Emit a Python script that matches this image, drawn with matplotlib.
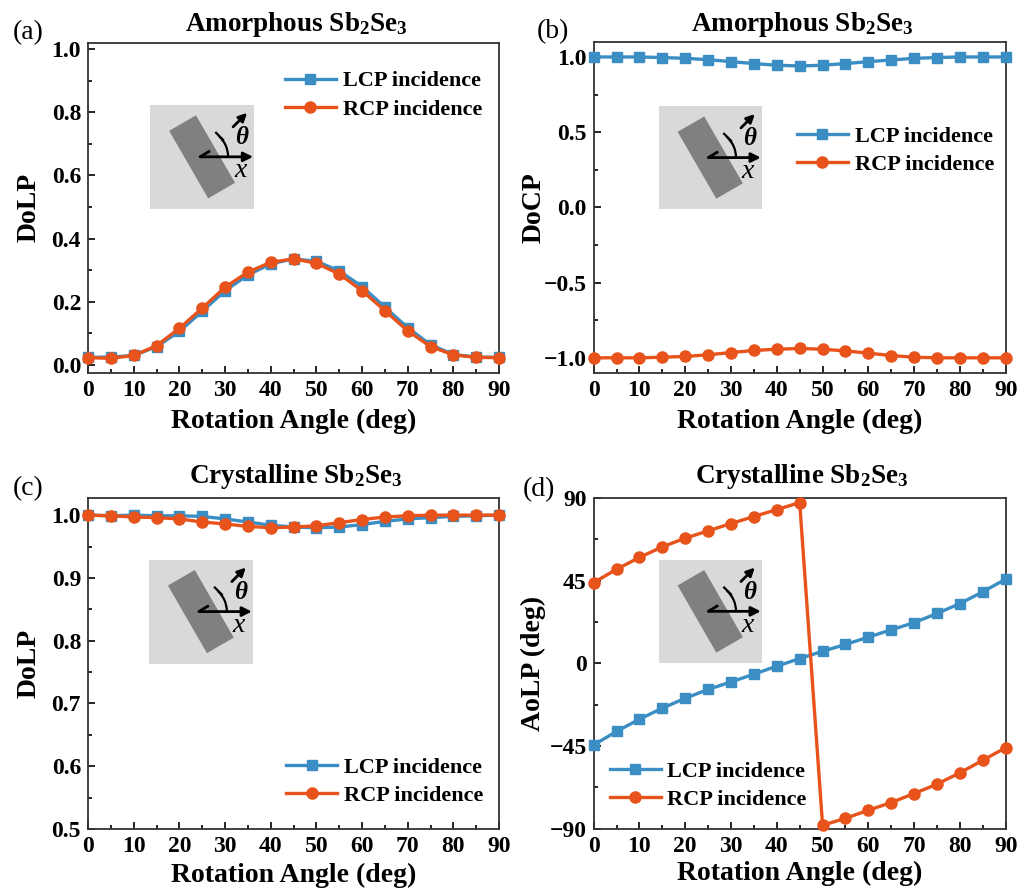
import numpy as np
import matplotlib
matplotlib.use("Agg")
import matplotlib.pyplot as plt
from matplotlib.patches import Rectangle, Arc
from matplotlib.ticker import MultipleLocator

plt.rcParams['font.family'] = ['Liberation Serif', 'DejaVu Serif']
plt.rcParams['font.weight'] = 'bold'
plt.rcParams['mathtext.fontset'] = 'custom'
plt.rcParams['mathtext.rm'] = 'Liberation Serif:bold'
plt.rcParams['mathtext.it'] = 'Liberation Serif:italic'
plt.rcParams['mathtext.bf'] = 'Liberation Serif:bold'

# ---- data ----
angle = [0, 5, 10, 15, 20, 25, 30, 35, 40, 45, 50, 55, 60, 65, 70, 75, 80, 85, 90]

# (a) DoLP, amorphous
dolp_am_lcp = [0.024, 0.025, 0.030, 0.058, 0.106, 0.170, 0.235, 0.285, 0.320, 0.336,
               0.328, 0.298, 0.248, 0.183, 0.118, 0.064, 0.033, 0.025, 0.024]
dolp_am_rcp = [0.023, 0.021, 0.030, 0.061, 0.116, 0.180, 0.246, 0.294, 0.325, 0.336,
               0.322, 0.288, 0.235, 0.172, 0.108, 0.058, 0.032, 0.024, 0.023]

# (b) DoCP, amorphous
docp_am_lcp = [1.000, 1.000, 1.000, 0.996, 0.991, 0.982, 0.969, 0.956, 0.945, 0.940,
               0.945, 0.956, 0.969, 0.980, 0.991, 0.996, 1.000, 1.000, 1.000]
docp_am_rcp = [-1.000, -1.000, -1.000, -0.996, -0.991, -0.980, -0.965, -0.951, -0.943, -0.938,
               -0.943, -0.954, -0.969, -0.985, -0.996, -1.000, -1.000, -1.000, -1.000]

# (c) DoLP, crystalline
dolp_cr_lcp = [1.000, 0.999, 1.000, 0.999, 0.999, 0.998, 0.994, 0.989, 0.984, 0.981,
               0.980, 0.981, 0.985, 0.990, 0.994, 0.996, 0.998, 0.999, 1.000]
dolp_cr_rcp = [1.000, 0.999, 0.997, 0.996, 0.994, 0.989, 0.986, 0.982, 0.980, 0.981,
               0.983, 0.988, 0.993, 0.997, 0.999, 1.000, 1.000, 1.000, 1.000]

# (d) AoLP, crystalline
aolp_cr_lcp = [-44.4, -37.1, -30.4, -24.4, -19.0, -14.2, -10.1, -5.9, -1.5, 2.6,
               6.6, 10.3, 14.3, 18.3, 22.2, 27.2, 32.6, 39.0, 45.9]
aolp_cr_rcp = [44.0, 51.3, 57.7, 63.5, 68.2, 72.2, 76.2, 80.0, 83.8, 87.6,
               -88.2, -84.4, -80.0, -75.8, -70.9, -65.8, -59.6, -52.8, -45.9]

BLUE = '#3b8ec4'
ORANGE = '#e8521b'

fig = plt.figure(figsize=(10.2, 8.92), dpi=100)

def add_inset(ax, pos):
    ins = ax.inset_axes(pos)
    ins.set_xlim(0, 104)
    ins.set_ylim(0, 104)
    ins.set_facecolor('#d9d9d9')
    for s in ins.spines.values():
        s.set_visible(False)
    ins.set_xticks([])
    ins.set_yticks([])
    ins.add_patch(Rectangle((52 - 15.5, 52 - 39), 31, 78, angle=30,
                            rotation_point='center', color='#808080', lw=0))
    # x axis arrow
    ins.annotate('', xy=(103, 52), xytext=(50, 52),
                 arrowprops=dict(arrowstyle='-|>', lw=2, color='black',
                                 mutation_scale=14, shrinkA=0, shrinkB=0))
    # rotated axis arrow (outer part)
    ins.annotate('', xy=(97, 96), xytext=(83, 82),
                 arrowprops=dict(arrowstyle='-|>', lw=2, color='black',
                                 mutation_scale=12, shrinkA=0, shrinkB=0))
    ins.plot([50, 60], [52, 58], color='black', lw=2, solid_capstyle='butt')
    ins.add_patch(Arc((50, 52), 56, 56, theta1=0, theta2=48, lw=1.6, color='black'))
    ins.plot([66, 73], [76, 69], color='black', lw=1.6)
    ins.text(92, 71, r'$\theta$', fontsize=18, ha='center', va='center')
    ins.text(90, 38, 'x', fontsize=20, ha='center', va='center',
             fontstyle='italic', fontweight='normal')
    return ins

def style_axes(ax, ylabel, title, tag, tag_xy, ylab_x, xlab_y, title_y):
    ax.set_xlim(0, 90)
    ax.xaxis.set_major_locator(MultipleLocator(10))
    ax.xaxis.set_minor_locator(MultipleLocator(5))
    ax.tick_params(which='both', direction='in', top=False, right=False,
                   labelsize=17, width=1.2, pad=5)
    ax.tick_params(which='major', length=5)
    ax.tick_params(which='minor', length=3)
    for s in ax.spines.values():
        s.set_linewidth(1.3)
        s.set_color('#333333')
    ax.set_xlabel('Rotation Angle (deg)', fontsize=20, fontweight='bold', va='center')
    ax.xaxis.set_label_coords(0.5, xlab_y)
    ax.set_ylabel(ylabel, fontsize=20, fontweight='bold', va='center')
    ax.yaxis.set_label_coords(ylab_x, 0.5)
    ax.text(0.506, title_y, title, transform=ax.transAxes, fontsize=19.5,
            fontweight='bold', ha='center', va='center')
    ax.text(tag_xy[0], tag_xy[1], tag, transform=ax.transAxes, fontsize=20,
            fontweight='normal', ha='left', va='center')

def plot_pair(ax, lcp, rcp):
    ax.plot(angle, lcp, color=BLUE, lw=2.4, marker='s', ms=7, label='LCP incidence',
            clip_on=False, zorder=3)
    ax.plot(angle, rcp, color=ORANGE, lw=2.4, marker='o', ms=8, label='RCP incidence',
            clip_on=False, zorder=4)

def add_legend(ax, x, y):
    ax.legend(loc='upper left', bbox_to_anchor=(x, y), frameon=False,
              prop={'weight': 'bold', 'size': 16}, handlelength=2.3,
              handletextpad=0.3, labelspacing=0.35, borderpad=0, borderaxespad=0)

# (a)
ax1 = fig.add_axes([0.0863, 0.582, 0.403, 0.370])
plot_pair(ax1, dolp_am_lcp, dolp_am_rcp)
ax1.set_ylim(-0.025, 1.02)
ax1.yaxis.set_major_locator(MultipleLocator(0.2))
ax1.yaxis.set_minor_locator(MultipleLocator(0.1))
ax1.yaxis.set_major_formatter(lambda v, p: f'{v:.1f}')
style_axes(ax1, 'DoLP', r'Amorphous Sb$_2$Se$_3$', '(a)', (-0.182, 1.03),
           -0.1436, -0.148, 1.057)
add_legend(ax1, 0.479, 0.915)
add_inset(ax1, [0.151, 0.497, 0.253, 0.315])

# (b)
ax2 = fig.add_axes([0.582, 0.582, 0.404, 0.371])
plot_pair(ax2, docp_am_lcp, docp_am_rcp)
ax2.set_ylim(-1.1, 1.1)
ax2.yaxis.set_major_locator(MultipleLocator(0.5))
ax2.yaxis.set_minor_locator(MultipleLocator(0.25))
ax2.yaxis.set_major_formatter(lambda v, p: f'{v:.1f}'.replace('-', '\u2212'))
style_axes(ax2, 'DoCP', r'Amorphous Sb$_2$Se$_3$', '(b)', (-0.138, 1.03),
           -0.1456, -0.148, 1.054)
add_legend(ax2, 0.493, 0.746)
add_inset(ax2, [0.158, 0.495, 0.25, 0.311])

# (c)
ax3 = fig.add_axes([0.0863, 0.0706, 0.403, 0.3716])
plot_pair(ax3, dolp_cr_lcp, dolp_cr_rcp)
ax3.set_ylim(0.5, 1.028)
ax3.yaxis.set_major_locator(MultipleLocator(0.1))
ax3.yaxis.set_minor_locator(MultipleLocator(0.05))
ax3.yaxis.set_major_formatter(lambda v, p: f'{v:.1f}')
style_axes(ax3, 'DoLP', r'Crystalline Sb$_2$Se$_3$', '(c)', (-0.182, 1.026),
           -0.1436, -0.141, 1.063)
add_legend(ax3, 0.482, 0.217)
add_inset(ax3, [0.148, 0.499, 0.253, 0.314])

# (d)
ax4 = fig.add_axes([0.582, 0.0711, 0.404, 0.3704])
plot_pair(ax4, aolp_cr_lcp, aolp_cr_rcp)
ax4.set_ylim(-90, 90)
ax4.yaxis.set_major_locator(MultipleLocator(45))
ax4.yaxis.set_minor_locator(MultipleLocator(22.5))
ax4.yaxis.set_major_formatter(lambda v, p: f'{v:.0f}'.replace('-', '\u2212'))
style_axes(ax4, 'AoLP (deg)', r'Crystalline Sb$_2$Se$_3$', '(d)', (-0.172, 1.026),
           -0.1456, -0.137, 1.066)
add_legend(ax4, 0.039, 0.204)
add_inset(ax4, [0.158, 0.501, 0.25, 0.313])

fig.savefig('out.png', dpi=100)
